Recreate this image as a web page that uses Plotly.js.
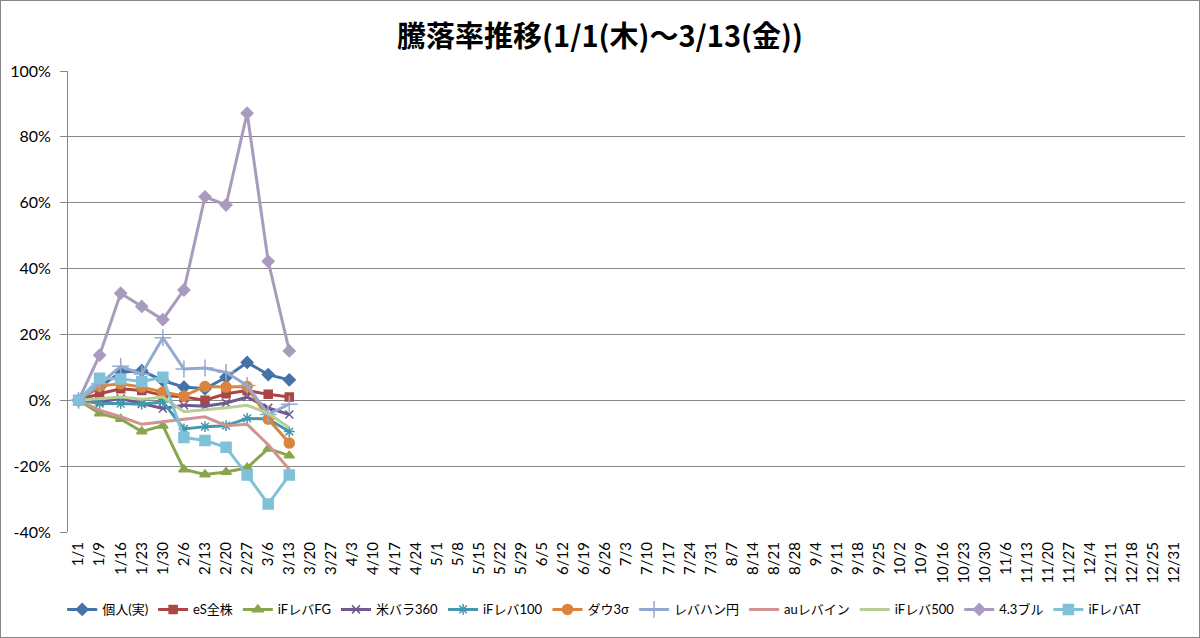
<!DOCTYPE html>
<html>
<head>
<meta charset="utf-8">
<script src="https://cdn.plot.ly/plotly-3.0.1.min.js"></script>
<style>
  html, body { margin: 0; padding: 0; background: #fff; }
  #chart { width: 1198px; height: 636px; border: 1px solid #868686; }
</style>
</head>
<body>
<div id="chart"></div>
<script>
(function() {
  'use strict';

  // weekly category labels for the whole year
  var weeks = ['1/1', '1/9', '1/16', '1/23', '1/30', '2/6', '2/13', '2/20', '2/27', '3/6', '3/13',
    '3/20', '3/27', '4/3', '4/10', '4/17', '4/24', '5/1', '5/8', '5/15', '5/22', '5/29',
    '6/5', '6/12', '6/19', '6/26', '7/3', '7/10', '7/17', '7/24', '7/31', '8/7', '8/14',
    '8/21', '8/28', '9/4', '9/11', '9/18', '9/25', '10/2', '10/9', '10/16', '10/23', '10/30',
    '11/6', '11/13', '11/20', '11/27', '12/4', '12/11', '12/18', '12/25', '12/31'];

  // y axis ticks (%)
  var pctTicks = [-40, -20, 0, 20, 40, 60, 80, 100];

  // change rate (%), 1/1 .. 3/13
  var kojin     = [0, 4, 8.5, 9, 6, 4, 3.5, 7, 11.5, 7.8, 6.2];
  var esZenkabu = [0, 2, 3.5, 3, 1.5, 1, 0, 2, 3, 1.8, 1];
  var ifFG      = [0, -4, -5.7, -9.5, -7.7, -21, -22.5, -21.8, -20.5, -14.7, -16.8];
  var beiBara   = [0, -0.5, 0.5, -1, -2.5, -1.5, -1.8, -0.8, 1, -2.3, -4.3];
  var if100     = [0, -1, -1, -1.2, -0.5, -8.7, -8, -7.7, -5.5, -5.7, -9.5];
  var dow3s     = [0, 4.3, 5, 4, 2.5, 1.3, 4.2, 4, 4.2, -5.7, -13];
  var levaYen   = [0, 5, 10.3, 8, 19, 9.5, 9.8, 8.5, 4.5, -4.3, -1.2];
  var auLeva    = [0, -3, -5, -7.3, -6.5, -5.7, -5, -7.7, -7.3, -13.5, -21];
  var if500     = [0, 0.5, 1, 0.3, 1, -3.5, -3, -2.3, -1.5, -4, -8.3];
  var bull43    = [0, 13.7, 32.5, 28.5, 24.5, 33.5, 61.8, 59.3, 87.2, 42.2, 15];
  var ifAT      = [0, 6.7, 6.5, 5.7, 7, -11.3, -12.2, -14.3, -22.7, -31.5, -22.7];

  var seriesNames = ['個人(実)', 'eS全株', 'iFレバFG', '米バラ360', 'iFレバ100', 'ダウ3σ',
    'レバハン円', 'auレバイン', 'iFレバ500', '4.3ブル', 'iFレバAT'];
  var seriesValues = [kojin, esZenkabu, ifFG, beiBara, if100, dow3s, levaYen, auLeva, if500, bull43, ifAT];

  var styles = [
    { color: '#4572A7', symbol: 'diamond', size: 9 },
    { color: '#AA4643', symbol: 'square', size: 8 },
    { color: '#89A54E', symbol: 'triangle-up', size: 9 },
    { color: '#71588F', symbol: 'x-thin-open', size: 8 },
    { color: '#4198AF', symbol: 'asterisk-open', size: 9 },
    { color: '#DB843D', symbol: 'circle', size: 10 },
    { color: '#93A9CF', symbol: 'cross-thin-open', size: 12 },
    { color: '#D19392', symbol: null },
    { color: '#B9CD96', symbol: null },
    { color: '#A99BBD', symbol: 'diamond', size: 9 },
    { color: '#80C0D8', symbol: 'square', size: 10 }
  ];

  var latin = 'Lato, "Noto Sans CJK JP", sans-serif';

  var data = seriesValues.map(function(vals, i) {
    var s = styles[i];
    var tr = {
      x: weeks.slice(0, vals.length),
      y: vals,
      type: 'scatter',
      mode: s.symbol ? 'lines+markers' : 'lines',
      name: seriesNames[i],
      line: { color: s.color, width: 3 },
      hovertemplate: '%{x}: %{y}%<extra>' + seriesNames[i] + '</extra>'
    };
    if (s.symbol) {
      tr.marker = { symbol: s.symbol, size: s.size, color: s.color,
        line: { color: s.color, width: 1.5 } };
    }
    return tr;
  });

  var layout = {
    width: 1198,
    height: 636,
    paper_bgcolor: '#fff',
    plot_bgcolor: '#fff',
    margin: { l: 67, r: 14, t: 70, b: 98 },
    font: { family: latin, color: '#000', size: 14 },
    title: {
      text: '<b>騰落率推移(1/1(木)～3/13(金))</b>',
      font: { family: '"Noto Sans CJK JP", sans-serif', size: 29, color: '#000' },
      x: 0.5, xanchor: 'center',
      y: 0.943, yanchor: 'middle'
    },
    showlegend: true,
    legend: {
      orientation: 'h',
      x: 0.48, xanchor: 'center',
      y: -0.168, yanchor: 'middle',
      font: { family: latin, size: 13, color: '#000' },
      itemwidth: 30,
      traceorder: 'normal'
    },
    xaxis: {
      type: 'category',
      categoryorder: 'array',
      categoryarray: weeks,
      tickvals: weeks,
      ticktext: weeks,
      range: [-0.5, weeks.length - 0.5],
      tickangle: -90,
      tickfont: { family: latin, size: 15, color: '#000' },
      showgrid: false,
      showline: false,
      ticks: '',
      ticklabelstandoff: 6,
      fixedrange: true
    },
    xaxis2: {
      type: 'category',
      overlaying: 'x',
      matches: 'x',
      anchor: 'free',
      position: 40 / 140,
      categoryorder: 'array',
      categoryarray: weeks,
      range: [-0.5, weeks.length - 0.5],
      showline: true,
      linecolor: '#868686',
      linewidth: 1,
      ticks: 'outside',
      tickson: 'boundaries',
      ticklen: 5,
      tickcolor: '#868686',
      showticklabels: false,
      showgrid: false
    },
    yaxis: {
      range: [-40, 100],
      tickmode: 'array',
      tickvals: pctTicks,
      ticktext: pctTicks.map(function(v) { return v + '%'; }),
      tickfont: { family: latin, size: 16, color: '#000' },
      showgrid: true,
      gridcolor: '#868686',
      gridwidth: 1,
      zeroline: false,
      showline: true,
      linecolor: '#868686',
      ticks: 'outside',
      ticklen: 7,
      tickcolor: '#868686',
      ticklabelstandoff: 6,
      fixedrange: true
    },
    hovermode: 'closest'
  };

  Plotly.newPlot('chart', data, layout, { displayModeBar: false, staticPlot: false });
})();
</script>
</body>
</html>
